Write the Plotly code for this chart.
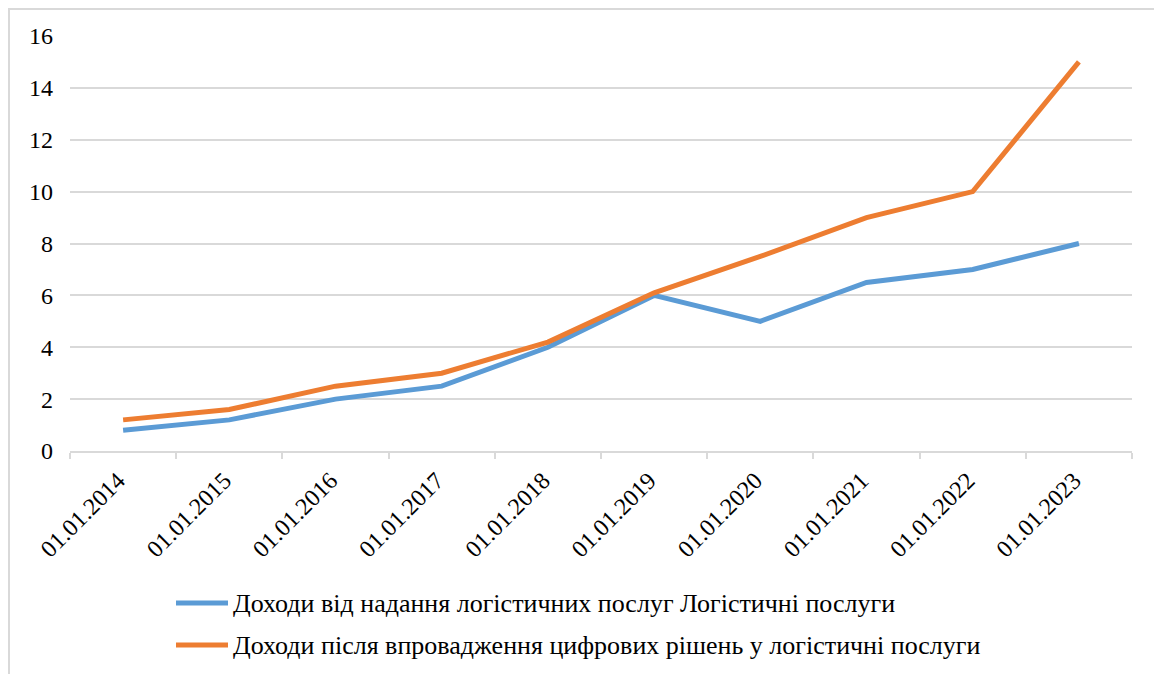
import plotly.graph_objects as go

categories = ["01.01.2014", "01.01.2015", "01.01.2016", "01.01.2017", "01.01.2018",
              "01.01.2019", "01.01.2020", "01.01.2021", "01.01.2022", "01.01.2023"]
income_logistics = [0.8, 1.2, 2.0, 2.5, 4.0, 6.0, 5.0, 6.5, 7.0, 8.0]
income_digital = [1.2, 1.6, 2.5, 3.0, 4.2, 6.1, 7.5, 9.0, 10.0, 15.0]
series_names = ["Доходи від надання логістичних послуг Логістичні послуги",
                "Доходи після впровадження цифрових рішень у логістичні послуги"]
colors = ["#5B9BD5", "#ED7D31"]
y_ticks = [0, 2, 4, 6, 8, 10, 12, 14, 16]

# page body has an 8px margin; figure is drawn from screen (8, 8)
OFF = 8
W, H = 1162 - OFF, 674 - OFF
L, R, T, B = 70 - OFF, 30, 36 - OFF, 223
pw, ph = W - L - R, H - T - B

def px_x(px):  # screen px -> paper
    return (px - OFF - L) / pw

def px_y(py):
    return (H - B - (py - OFF)) / ph

FONT = "'Times New Roman', 'Liberation Serif', Tinos, 'Noto Serif', 'DejaVu Serif', serif"

fig = go.Figure()
for name, vals, col in zip(series_names, [income_logistics, income_digital], colors):
    fig.add_trace(go.Scatter(x=categories, y=vals, mode="lines", name=name,
                             line=dict(color=col, width=5), showlegend=False))

shapes = [
    dict(type="rect", xref="paper", yref="paper",
         x0=px_x(9), x1=px_x(1159), y0=px_y(700), y1=px_y(9),
         line=dict(color="#D9D9D9", width=2), fillcolor="rgba(0,0,0,0)", layer="below"),
]
annotations = []
legend_rows = [603, 645]
for name, col, ry in zip(series_names, colors, legend_rows):
    shapes.append(dict(type="line", xref="paper", yref="paper",
                       x0=px_x(176), x1=px_x(228), y0=px_y(ry), y1=px_y(ry),
                       line=dict(color=col, width=5)))
    annotations.append(dict(xref="paper", yref="paper", x=px_x(231), y=px_y(ry),
                            xanchor="left", yanchor="middle", showarrow=False,
                            text=name, font=dict(family=FONT, size=26, color="#000000")))

fig.update_layout(
    width=W, height=H,
    margin=dict(l=L, r=R, t=T, b=B, autoexpand=False),
    paper_bgcolor="white", plot_bgcolor="white",
    font=dict(family=FONT, size=24, color="#000000"),
    shapes=shapes, annotations=annotations,
    xaxis=dict(type="category", range=[-0.5, 9.5], tickangle=-45, tickson="boundaries",
               ticks="outside", ticklen=6, tickcolor="#D9D9D9", tickwidth=2,
               showline=True, linecolor="#D9D9D9", linewidth=2, automargin=False,
               showgrid=False, tickfont=dict(family=FONT, size=24), ticklabelstandoff=4,
               ticklabelshift=-5),
    yaxis=dict(range=[0, 16], tickvals=y_ticks, showgrid=True, gridcolor="#D9D9D9",
               gridwidth=2, zeroline=False, showline=False, ticks="", automargin=False,
               tickfont=dict(family=FONT, size=24), ticklabelstandoff=16),
)

fig.write_html("out.html")
